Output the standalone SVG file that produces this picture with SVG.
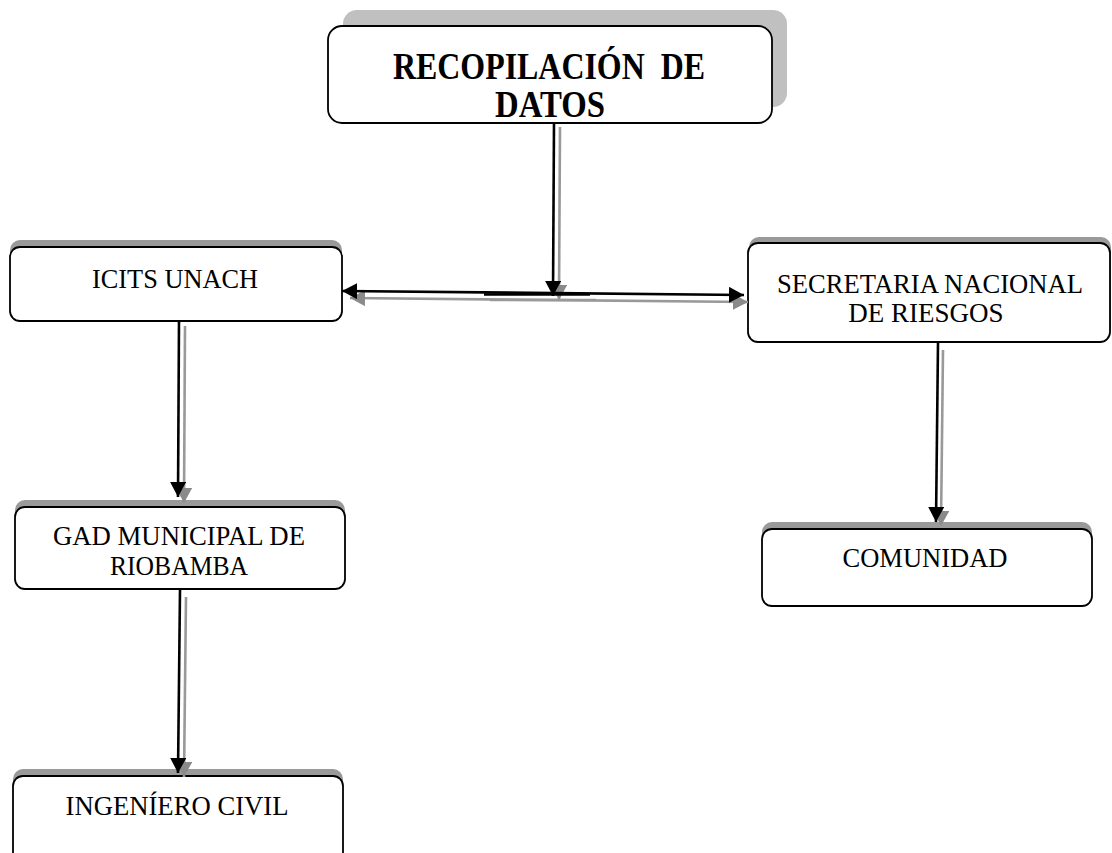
<svg xmlns="http://www.w3.org/2000/svg" width="1112" height="853" viewBox="0 0 1112 853">
<style>
.box{fill:#fff;stroke:#000;stroke-width:1.8}
.sh{fill:#9a9a9a}
.sh2{fill:#c0c0c0}
.t{font-family:"Liberation Serif","Times New Roman",serif;font-size:27px;fill:#000;text-anchor:middle}
.h{font-family:"Liberation Serif","Times New Roman",serif;font-size:37px;font-weight:bold;fill:#000;text-anchor:middle;white-space:pre}
.cb{stroke:#000;stroke-width:2.6;fill:none}
.cg{stroke:#999;stroke-width:2.6;fill:none}
</style>
<defs>
<marker id="ab" markerUnits="userSpaceOnUse" markerWidth="16" markerHeight="16" refX="15" refY="8" orient="auto-start-reverse" viewBox="0 0 16 16"><path d="M0,0 L15,8 L0,16 Z" fill="#000"/></marker>
<marker id="ag" markerUnits="userSpaceOnUse" markerWidth="16" markerHeight="16" refX="15" refY="8" orient="auto-start-reverse" viewBox="0 0 16 16"><path d="M0,0 L15,8 L0,16 Z" fill="#8a8a8a"/></marker>
</defs>
<rect width="1112" height="853" fill="#fff"/>
<g id="node-recopilacion">
<rect class="sh2" x="343" y="10" width="444" height="97" rx="14"/>
<rect class="box" x="328" y="26" width="444" height="97" rx="14"/>
<text class="h" x="549" y="79" textLength="312" lengthAdjust="spacingAndGlyphs" xml:space="preserve">RECOPILACIÓN  DE</text>
<text class="h" x="550" y="117" textLength="110" lengthAdjust="spacingAndGlyphs">DATOS</text>
</g>
<g id="node-icits">
<rect class="sh" x="10" y="240" width="332" height="74" rx="10"/>
<rect class="box" x="10" y="247" width="332" height="74" rx="10"/>
<text class="t" x="175" y="288" textLength="166" lengthAdjust="spacingAndGlyphs">ICITS UNACH</text>
</g>
<g id="node-secretaria">
<rect class="sh" x="749" y="237" width="362" height="99" rx="10"/>
<rect class="box" x="748" y="243" width="362" height="99" rx="10"/>
<text class="t" x="930" y="293" textLength="306" lengthAdjust="spacingAndGlyphs">SECRETARIA NACIONAL</text>
<text class="t" x="926" y="322">DE RIESGOS</text>
</g>
<g id="node-gad">
<rect class="sh" x="15" y="500" width="330" height="82" rx="10"/>
<rect class="box" x="15" y="507" width="330" height="82" rx="10"/>
<text class="t" x="179" y="545" textLength="252" lengthAdjust="spacingAndGlyphs">GAD MUNICIPAL DE</text>
<text class="t" x="179" y="575" textLength="138" lengthAdjust="spacingAndGlyphs">RIOBAMBA</text>
</g>
<g id="node-comunidad">
<rect class="sh" x="762" y="522" width="330" height="77" rx="10"/>
<rect class="box" x="762" y="529" width="330" height="77" rx="10"/>
<text class="t" x="925" y="567" textLength="165" lengthAdjust="spacingAndGlyphs">COMUNIDAD</text>
</g>
<g id="node-ingeniero">
<rect class="sh" x="13" y="769" width="330" height="100" rx="10"/>
<rect class="box" x="13" y="776" width="330" height="100" rx="10"/>
<text class="t" x="177" y="815" textLength="223" lengthAdjust="spacingAndGlyphs">INGENÍERO CIVIL</text>
</g>
<g id="connectors">
<path class="cg" d="M560,127 L559,300" marker-end="url(#ag)"/>
<path class="cb" d="M554,123 L553,296" marker-end="url(#ab)"/>
<path class="cg" d="M350,298 L748,302" marker-start="url(#ag)" marker-end="url(#ag)"/>
<path class="cb" d="M342,291 L744,295" marker-start="url(#ab)" marker-end="url(#ab)"/>
<path class="cg" d="M490,300 L596,300"/>
<path class="cb" d="M484,294.5 L590,294.5"/>
<path class="cg" d="M185,326 L184,503" marker-end="url(#ag)"/>
<path class="cb" d="M179,321 L178,497" marker-end="url(#ab)"/>
<path class="cg" d="M186,597 L184,777" marker-end="url(#ag)"/>
<path class="cb" d="M180,590 L178,773" marker-end="url(#ab)"/>
<path class="cg" d="M943,350 L941,526" marker-end="url(#ag)"/>
<path class="cb" d="M938,343 L936,522" marker-end="url(#ab)"/>
</g>
</svg>
